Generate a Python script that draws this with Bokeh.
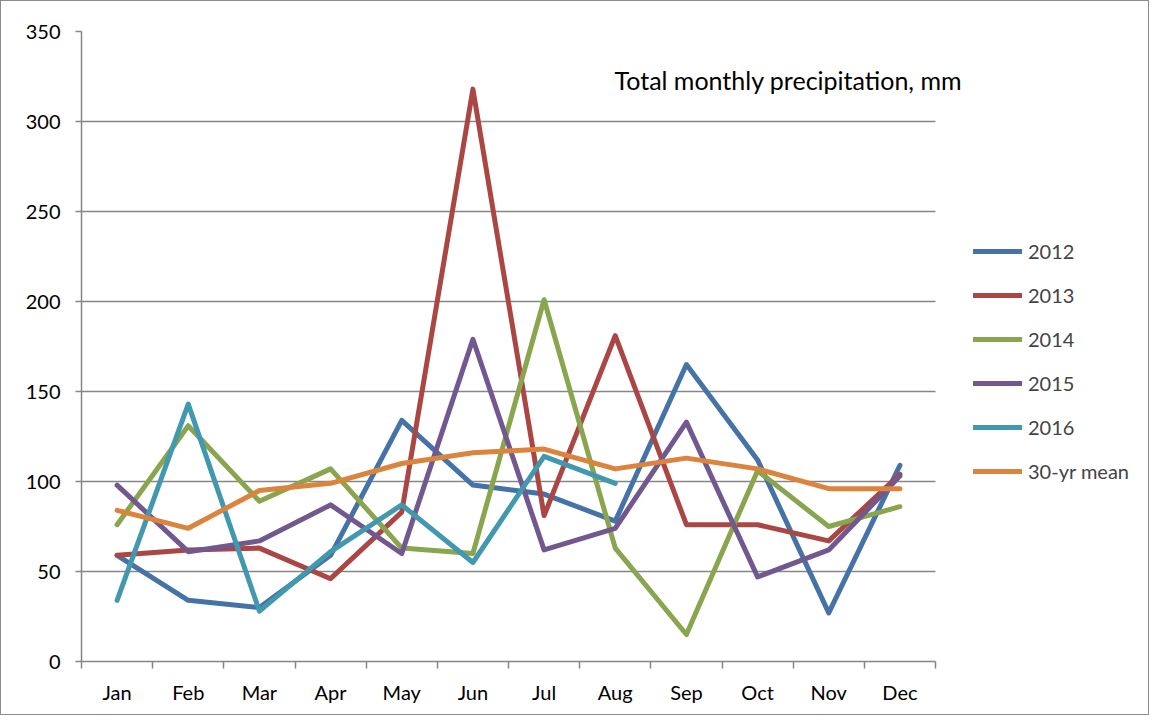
from bokeh.plotting import figure
from bokeh.models import Range1d, FixedTicker, Legend, LegendItem, Label
from bokeh.embed import file_html
from bokeh.resources import INLINE

months = ["Jan", "Feb", "Mar", "Apr", "May", "Jun", "Jul", "Aug", "Sep", "Oct", "Nov", "Dec"]
y2012 = [59, 34, 30, 59, 134, 98, 93, 78, 165, 112, 27, 109]
y2013 = [59, 62, 63, 46, 83, 318, 81, 181, 76, 76, 67, 104]
y2014 = [76, 131, 89, 107, 63, 60, 201, 63, 15, 106, 75, 86]
y2015 = [98, 61, 67, 87, 60, 179, 62, 74, 133, 47, 62, 103]
y2016 = [34, 143, 28, 61, 87, 55, 114, 99]
mean30 = [84, 74, 95, 99, 110, 116, 118, 107, 113, 107, 96, 96]
yticks = [0, 50, 100, 150, 200, 250, 300, 350]

series = [
    ("2012", y2012, "#4572A7"),
    ("2013", y2013, "#AA4643"),
    ("2014", y2014, "#89A54E"),
    ("2015", y2015, "#71588F"),
    ("2016", y2016, "#4198AF"),
    ("30-yr mean", mean30, "#DB843D"),
]

FONT = "Lato"
GRID = "#868686"

# plot area spans 12 months over 854 px; frame widened to hold title & legend
n = len(months)
FRAME_W = 1060
x_end = n * FRAME_W / 854.0

p = figure(width=1147, height=713, output_backend="svg", toolbar_location=None,
           x_range=Range1d(0, x_end), y_range=Range1d(0, 350),
           min_border_left=80, min_border_top=30, min_border_right=7, min_border_bottom=53)
p.frame_width = FRAME_W
p.frame_height = 630
p.outline_line_color = None
p.background_fill_color = "white"
p.border_fill_color = "white"
p.styles = {"border": "1px solid #8c8c8c"}

xpos = [i + 0.5 for i in range(n)]

# grid lines limited to the month span
p.xgrid.grid_line_color = None
if hasattr(p.ygrid[0], "cross_bounds"):
    p.ygrid.ticker = FixedTicker(ticks=yticks)
    p.ygrid.grid_line_color = GRID
    p.ygrid.grid_line_width = 1.5
    p.ygrid.cross_bounds = (0, n)
else:
    p.ygrid.grid_line_color = None
    p.segment(x0=[0] * len(yticks), x1=[n] * len(yticks), y0=yticks, y1=yticks,
              line_color=GRID, line_width=1.5)

items = []
for name, vals, col in series:
    r = p.line(xpos[:len(vals)], vals, line_color=col, line_width=5,
               line_join="round", line_cap="round")
    items.append(LegendItem(label=name, renderers=[r]))

# axes
p.xaxis.bounds = (0, n)
p.xaxis.ticker = FixedTicker(ticks=xpos, minor_ticks=list(range(n + 1)))
p.xaxis.major_label_overrides = {x: m for x, m in zip(xpos, months)}
p.xaxis.major_tick_out = 0
p.xaxis.major_tick_in = 0
p.xaxis.minor_tick_out = 7
p.xaxis.minor_tick_in = 0
p.xaxis.minor_tick_line_color = GRID
p.xaxis.minor_tick_line_width = 1.5
p.xaxis.axis_line_color = GRID
p.xaxis.axis_line_width = 1.5
p.xaxis.major_label_text_font = FONT
p.xaxis.major_label_text_font_size = "20px"
p.xaxis.major_label_text_color = "black"
p.xaxis.major_label_standoff = 11

p.yaxis.ticker = FixedTicker(ticks=yticks)
p.yaxis.minor_tick_line_color = None
p.yaxis.major_tick_out = 6
p.yaxis.major_tick_in = 0
p.yaxis.major_tick_line_color = GRID
p.yaxis.major_tick_line_width = 1.5
p.yaxis.axis_line_color = GRID
p.yaxis.axis_line_width = 1.5
p.yaxis.major_label_text_font = FONT
p.yaxis.major_label_text_font_size = "20px"
p.yaxis.major_label_text_color = "black"
p.yaxis.major_label_standoff = 15

legend = Legend(items=items, location=(892, 178), orientation="vertical",
                border_line_color=None, background_fill_alpha=0,
                label_text_font=FONT, label_text_font_size="20px",
                glyph_width=49, glyph_height=20, label_height=20,
                spacing=20, label_standoff=6, padding=0, margin=0)
p.add_layout(legend, "center")

title = Label(x=533, y=582, x_units="screen", y_units="screen",
              text="Total monthly precipitation, mm", text_font=FONT,
              text_font_size="25px", text_color="black",
              text_baseline="middle")
p.add_layout(title)

open("out.html", "w").write(file_html(p, INLINE))
